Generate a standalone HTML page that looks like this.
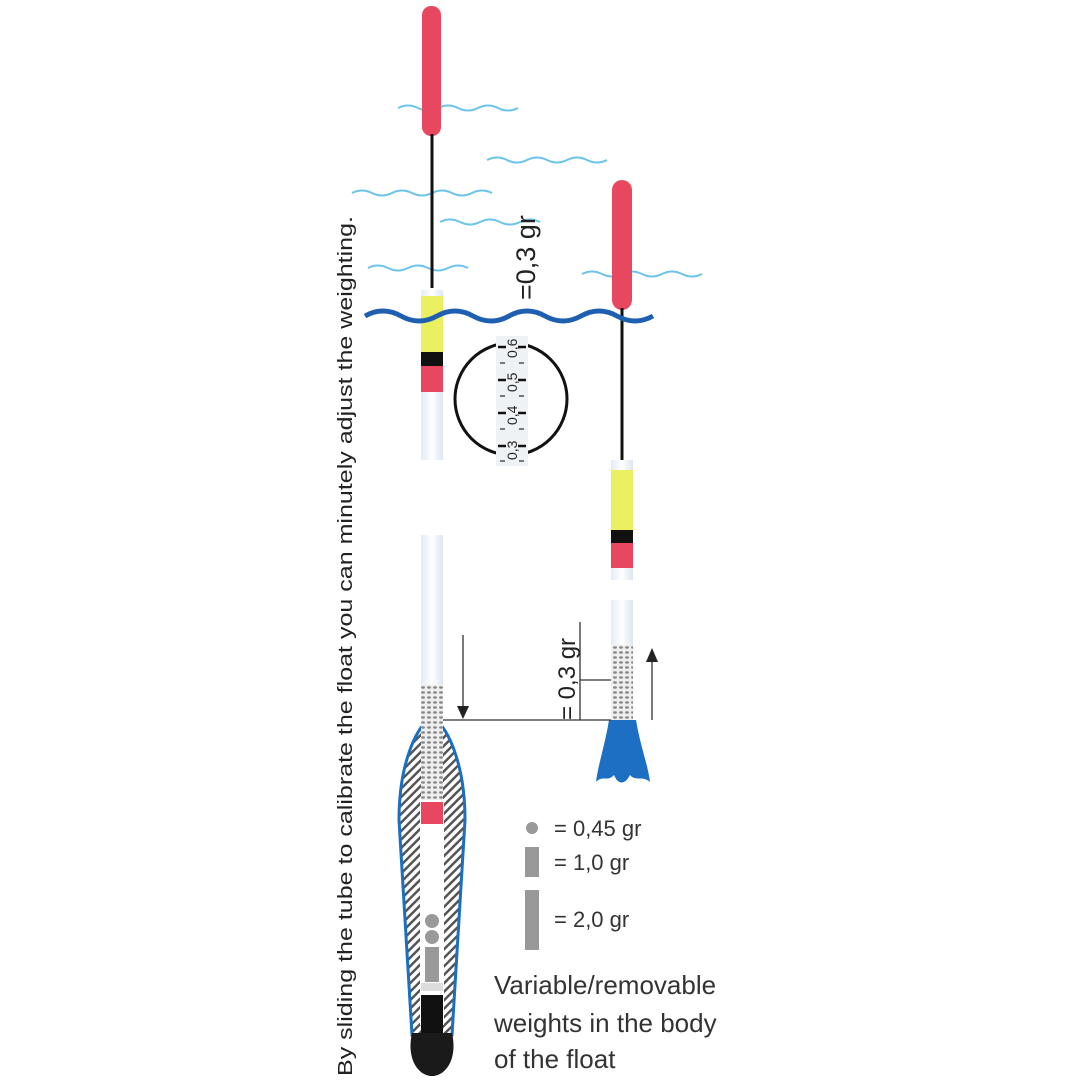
<!DOCTYPE html>
<html><head><style>body{margin:0;background:#fff}svg{display:block}</style></head><body>
<svg width="1080" height="1080" viewBox="0 0 1080 1080" xmlns="http://www.w3.org/2000/svg" font-family="'Liberation Sans', sans-serif">
<defs>
<pattern id="hatch" width="6" height="6" patternUnits="userSpaceOnUse" patternTransform="rotate(45)"><rect width="6" height="6" fill="#fff"/><rect width="2.5" height="6" fill="#555"/></pattern>
<pattern id="mesh" width="6" height="5" patternUnits="userSpaceOnUse"><rect width="6" height="5" fill="#eee"/><ellipse cx="3" cy="2.5" rx="2" ry="1.2" fill="#888"/></pattern>
<linearGradient id="tube" x1="0" x2="1"><stop offset="0" stop-color="#e4ecf4"/><stop offset="0.5" stop-color="#fff"/><stop offset="1" stop-color="#dde6ef"/></linearGradient>
</defs>
<text transform="translate(352,1076) rotate(-90)" font-size="20" fill="#222" textLength="860" lengthAdjust="spacingAndGlyphs">By sliding the tube to calibrate the float you can minutely adjust the weighting.</text>
<g fill="none" stroke="#6cc3ec" stroke-width="2">
<path d="M398 108 q10 -5 20 0 t20 0 t20 0 t20 0 t20 0 t20 0"/>
<path d="M487 160 q10 -5 20 0 t20 0 t20 0 t20 0 t20 0 t20 0"/>
<path d="M352 193 q10 -5 20 0 t20 0 t20 0 t20 0 t20 0 t20 0 t20 0"/>
<path d="M440 222 q10 -5 20 0 t20 0 t20 0 t20 0 t20 0"/>
<path d="M368 268 q10 -5 20 0 t20 0 t20 0 t20 0 t20 0"/>
<path d="M582 274 q10 -5 20 0 t20 0 t20 0 t20 0 t20 0 t20 0"/>
</g>
<rect x="422" y="6" width="19" height="130" rx="9" fill="#e8485f"/>
<line x1="432" y1="134" x2="432" y2="288" stroke="#111" stroke-width="3"/>
<rect x="421" y="290" width="22" height="170" fill="url(#tube)"/>
<rect x="421" y="296" width="22" height="56" fill="#eaf060"/>
<rect x="421" y="352" width="22" height="14" fill="#111"/>
<rect x="421" y="366" width="22" height="26" fill="#e8485f"/>
<rect x="421" y="535" width="22" height="150" fill="url(#tube)"/>
<path d="M432 718 C 445 722, 465 760, 465 820 L 452 1035 L 412 1035 L 399 820 C 399 760, 419 722, 432 718 Z" fill="url(#hatch)" stroke="#1b6fc0" stroke-width="3"/>
<rect x="421" y="685" width="22" height="115" fill="url(#mesh)"/>
<rect x="420" y="800" width="24" height="225" fill="#fff"/>
<rect x="421" y="802" width="22" height="22" fill="#e8485f"/>
<circle cx="432" cy="921" r="7" fill="#999"/><circle cx="432" cy="937" r="7" fill="#999"/>
<rect x="425" y="947" width="14" height="35" fill="#999"/>
<rect x="421" y="983" width="22" height="8" fill="#ddd"/>
<rect x="421" y="995" width="22" height="40" fill="#111"/>
<path d="M412 1033 L452 1033 C458 1060 445 1076 432 1076 C419 1076 406 1060 412 1033 Z" fill="#1a1a1a"/>
<rect x="612" y="180" width="20" height="130" rx="10" fill="#e8485f"/>
<line x1="622" y1="308" x2="622" y2="462" stroke="#111" stroke-width="3"/>
<rect x="611" y="460" width="22" height="120" fill="url(#tube)"/>
<rect x="611" y="470" width="22" height="60" fill="#eaf060"/>
<rect x="611" y="530" width="22" height="13" fill="#111"/>
<rect x="611" y="543" width="22" height="25" fill="#e8485f"/>
<rect x="611" y="600" width="22" height="45" fill="url(#tube)"/>
<rect x="611" y="645" width="22" height="75" fill="url(#mesh)"/>
<path d="M609 720 L636 720 C640 745 648 765 650 782 C642 775 636 782 630 775 C625 785 618 785 614 775 C608 782 602 775 596 782 C598 765 605 745 609 720 Z" fill="#1d6fc4"/>
<path d="M365 316 q18 -10 36 0 t36 0 t36 0 t36 0 t36 0 t36 0 t36 0 t36 0" fill="none" stroke="#1e5fb0" stroke-width="5"/>
<circle cx="511" cy="399" r="56" fill="#fff" stroke="#111" stroke-width="3"/>
<rect x="496" y="336" width="32" height="130" fill="#eef2f5"/>
<g stroke="#111" stroke-width="2.5">
<path d="M498 347h8M518 347h8M498 380h8M518 380h8M498 413h8M518 413h8M498 446h8M518 446h8"/>
</g>
<g stroke="#777" stroke-width="2">
<path d="M500 363h5M519 363h5M500 396h5M519 396h5M500 429h5M519 429h5M500 461h5M519 461h5"/>
</g>
<g fill="#222" font-size="14"><text transform="translate(517,460) rotate(-90)">0,3</text><text transform="translate(517,425) rotate(-90)">0,4</text><text transform="translate(517,392) rotate(-90)">0,5</text><text transform="translate(517,358) rotate(-90)">0,6</text></g>
<text transform="translate(535,300) rotate(-90)" font-size="27" fill="#222">=0,3 gr</text>
<g stroke="#333" stroke-width="1.3" fill="none">
<line x1="443" y1="720" x2="611" y2="720"/>
<line x1="580" y1="622" x2="580" y2="720"/>
<line x1="580" y1="680" x2="611" y2="680"/>
<line x1="463" y1="635" x2="463" y2="710"/>
<line x1="652" y1="660" x2="652" y2="720"/>
</g>
<path d="M457 706 L469 706 L463 719 Z" fill="#222"/>
<path d="M646 662 L658 662 L652 648 Z" fill="#222"/>
<text transform="translate(575,720) rotate(-90)" font-size="24" fill="#222">= 0,3 gr</text>
<circle cx="532" cy="828" r="6" fill="#999"/>
<rect x="525" y="847" width="14" height="30" fill="#999"/>
<rect x="525" y="890" width="14" height="60" fill="#999"/>
<g font-size="22" fill="#333"><text x="554" y="836">= 0,45 gr</text><text x="554" y="870">= 1,0 gr</text><text x="554" y="927">= 2,0 gr</text></g>
<g font-size="26" fill="#333"><text x="494" y="994">Variable/removable</text><text x="494" y="1032">weights in the body</text><text x="494" y="1068">of the float</text></g>
</svg>
</body></html>
